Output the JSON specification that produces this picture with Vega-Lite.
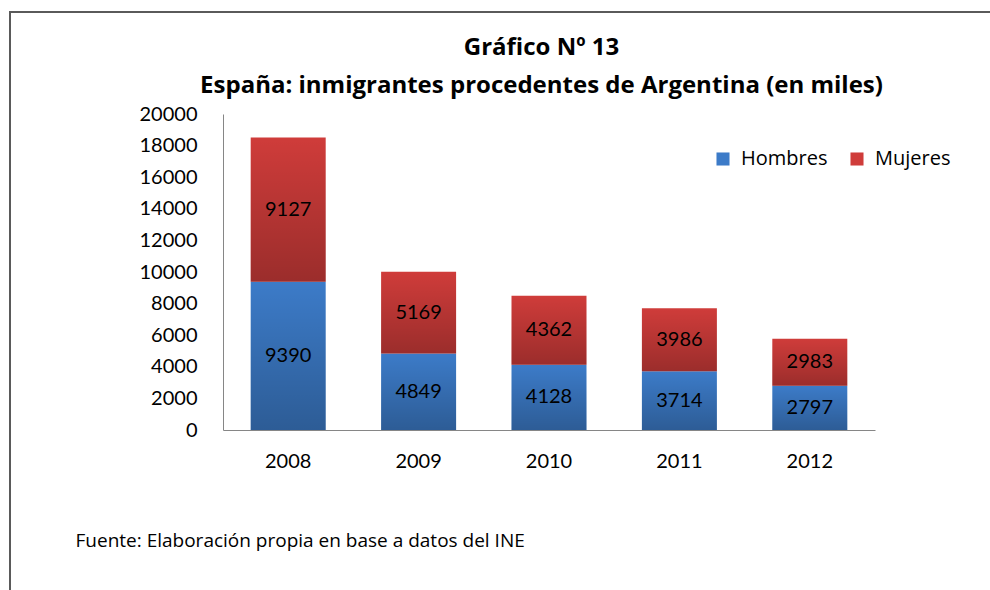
{
  "$schema": "https://vega.github.io/schema/vega-lite/v6.json",
  "width": 995,
  "height": 593,
  "autosize": {"type": "none"},
  "padding": {"left": 10, "top": 12, "right": -15, "bottom": -15},
  "background": "white",
  "config": {"view": {"stroke": "#5a5a5a", "strokeWidth": 2}, "font": "Lato"},
  "title": {
    "text": ["Gráfico Nº 13", "España: inmigrantes procedentes de Argentina (en miles)"],
    "fontSize": 24,
    "font": "Open Sans",
    "fontWeight": "bold",
    "color": "black",
    "anchor": "middle",
    "frame": "group",
    "offset": 0,
    "dy": 86,
    "dx": 34,
    "lineHeight": 38
  },
  "data": {
    "values": [
      {"anio": "2008", "sexo": "Hombres", "valor": 9390},
      {"anio": "2008", "sexo": "Mujeres", "valor": 9127},
      {"anio": "2009", "sexo": "Hombres", "valor": 4849},
      {"anio": "2009", "sexo": "Mujeres", "valor": 5169},
      {"anio": "2010", "sexo": "Hombres", "valor": 4128},
      {"anio": "2010", "sexo": "Mujeres", "valor": 4362},
      {"anio": "2011", "sexo": "Hombres", "valor": 3714},
      {"anio": "2011", "sexo": "Mujeres", "valor": 3986},
      {"anio": "2012", "sexo": "Hombres", "valor": 2797},
      {"anio": "2012", "sexo": "Mujeres", "valor": 2983}
    ]
  },
  "transform": [
    {"stack": "valor", "groupby": ["anio"], "sort": [{"field": "sexo", "order": "ascending"}], "as": ["v0", "v1"]},
    {"calculate": "(datum.v0 + datum.v1) / 2", "as": "mid"}
  ],
  "encoding": {
    "x": {
      "field": "anio",
      "type": "ordinal",
      "scale": {"range": [213, 865], "paddingInner": 0.425, "paddingOuter": 0.2125},
      "axis": {
        "title": "Fuente: Elaboración propia en base a datos del INE",
        "titleFont": "Open Sans",
        "titleFontSize": 19,
        "titleFontWeight": "normal",
        "titleColor": "black",
        "titleAlign": "left",
        "titleBaseline": "middle",
        "titleX": 65,
        "titleY": 110,
        "labelAngle": 0,
        "ticks": false,
        "tickSize": 0,
        "domainColor": "#868686",
        "labelFont": "Lato",
        "labelFontSize": 20,
        "labelColor": "black",
        "labelPadding": 21,
        "offset": -175
      }
    }
  },
  "layer": [
    {
      "mark": {"type": "bar"},
      "encoding": {
        "y": {
          "field": "v1",
          "type": "quantitative",
          "scale": {"domain": [0, 20000], "range": [418, 102], "nice": false, "zero": true},
          "axis": {
            "title": null,
            "values": [0, 2000, 4000, 6000, 8000, 10000, 12000, 14000, 16000, 18000, 20000],
            "format": "d",
            "grid": false,
            "ticks": false,
            "tickSize": 0,
            "domainColor": "#868686",
            "labelFont": "Lato",
            "labelFontSize": 20,
            "labelColor": "black",
            "labelPadding": 26,
            "offset": -213
          }
        },
        "y2": {"field": "v0"},
        "color": {
          "field": "sexo",
          "type": "nominal",
          "scale": {"domain": ["Hombres", "Mujeres"], "range": ["#3c7bc8", "#cf3c3a"]},
          "legend": {
            "orient": "none",
            "legendX": 703,
            "legendY": 137,
            "direction": "horizontal",
            "title": null,
            "symbolType": "square",
            "symbolSize": 170,
            "symbolStrokeWidth": 0,
            "labelFont": "Open Sans",
            "labelFontSize": 20,
            "labelColor": "black",
            "columnPadding": 19,
            "labelOffset": 8,
            "padding": 0
          }
        }
      }
    },
    {
      "mark": {
        "type": "bar",
        "fill": {
          "gradient": "linear",
          "x1": 0, "y1": 0, "x2": 0, "y2": 1,
          "stops": [
            {"offset": 0, "color": "rgba(0,0,0,0)"},
            {"offset": 1, "color": "rgba(0,0,0,0.25)"}
          ]
        }
      },
      "encoding": {
        "y": {"field": "v1", "type": "quantitative"},
        "y2": {"field": "v0"}
      }
    },
    {
      "mark": {"type": "text", "font": "Lato", "fontSize": 20, "color": "black", "baseline": "middle"},
      "encoding": {
        "y": {"field": "mid", "type": "quantitative"},
        "text": {"field": "valor", "type": "quantitative", "format": "d"}
      }
    }
  ]
}
